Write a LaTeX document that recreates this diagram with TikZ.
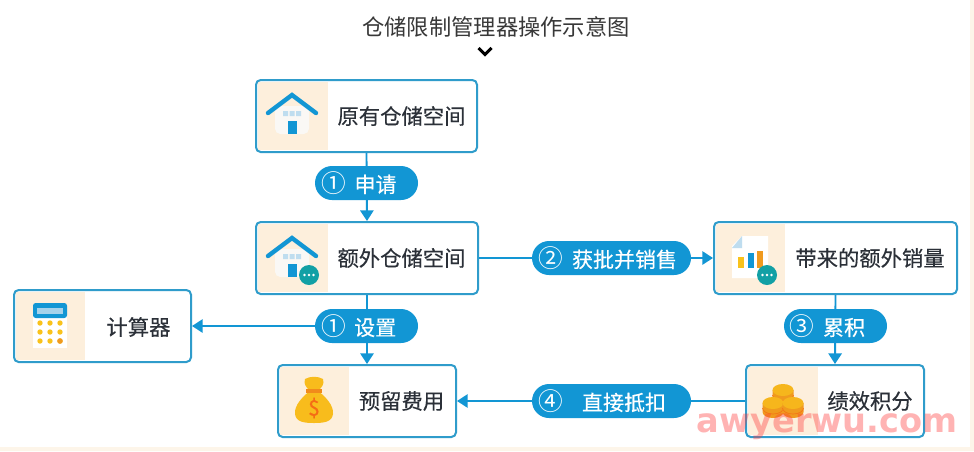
\documentclass[tikz,border=0pt]{standalone}
\usepackage{fontspec}
\setmainfont{Noto Sans CJK SC}
\newfontfamily\medcjk[FakeBold=0.3]{Noto Sans CJK SC}
\newfontfamily\circfont{Noto Sans CJK SC}
\newfontfamily\wmfont{DejaVu Sans Bold}
\usetikzlibrary{arrows.meta,shapes.misc}
\definecolor{lineblue}{HTML}{1296D4}
\definecolor{boxblue}{HTML}{2F9CCB}
\definecolor{panelc}{HTML}{FDEFDC}
\definecolor{stripc}{HTML}{FDF5E9}
\definecolor{teal1}{HTML}{12A0A5}
\definecolor{winc}{HTML}{BFDDEF}
\definecolor{wallc}{HTML}{FAF8F5}
\definecolor{yel}{HTML}{F9C21B}
\definecolor{ora}{HTML}{F09A1E}
\definecolor{txt}{HTML}{2B3038}
\tikzset{
  x=0.75pt,y=-0.75pt,
  boxnode/.style={draw=boxblue,line width=1.5pt,fill=none,rounded corners=3.5pt,inner sep=0pt,minimum height=54pt},
  boxtext/.style={inner sep=0pt,text=txt,font=\medcjk\fontsize{16}{18}\selectfont},
  pill/.style={rounded rectangle,fill=lineblue,text=white,inner sep=0pt,minimum height=25.5pt,font=\medcjk\fontsize{15.75}{18}\selectfont},
  conn/.style={draw=lineblue,line width=1.4pt,-{Triangle[length=8pt,width=10pt]}},
  roof/.style={draw=lineblue,line width=3.3pt,line join=miter,line cap=round}
}
\newcommand{\circnum}[1]{{\circfont\fontsize{18.5}{19}\selectfont #1}}
\newcommand{\housegl}[2]{%
  \begin{scope}[shift={(#1,#2)}]
    \fill[wallc,rounded corners=4pt] (-17,-8) -- (17,-8) -- (17,20) -- (-17,20) -- cycle;
    \fill[winc] (-9,-3) rectangle (-4,2) (-2.5,-3) rectangle (2.5,2) (4,-3) rectangle (9,2);
    \fill[lineblue] (-4.5,7) rectangle (4.5,20);
    \draw[roof] (-24,-1) -- (0,-19) -- (24,-1);
  \end{scope}}
\newcommand{\dotsbadge}[2]{%
  \fill[teal1] (#1,#2) circle[radius=10];
  \fill[white] (#1-4.5,#2) circle[radius=1.3] (#1,#2) circle[radius=1.3] (#1+4.5,#2) circle[radius=1.3];}
\newcommand{\coin}[2]{%
  \fill[ora] (#1-10.5,#2) -- (#1-10.5,#2+9) arc[start angle=180,end angle=0,x radius=10.5,y radius=6] -- (#1+10.5,#2) -- cycle;
  \draw[ora!75!red,line width=0.5pt] (#1-10.5,#2+5) arc[start angle=180,end angle=0,x radius=10.5,y radius=6];
  \fill[yel!70!ora] (#1,#2) ellipse[x radius=10.5,y radius=6];}
\begin{document}
\begin{tikzpicture}
\useasboundingbox (0,0) rectangle (974,451);
\fill[white] (0,0) rectangle (974,451);
\fill[stripc] (0,447) rectangle (974,451) (970,0) rectangle (974,451);
% title
\node[inner sep=0pt,text=black!78,font=\fontsize{16.7}{20}\selectfont] (title) at (496,27) {仓储限制管理器操作示意图};
\draw[black,line width=2.3pt] (478.5,48) -- (485,54.5) -- (491.5,48);
% panels
\fill[panelc] (258,82) rectangle (328,150);
\fill[panelc] (258,224) rectangle (328,292);
\fill[panelc] (16,292) rectangle (85,360);
\fill[panelc] (280,367) rectangle (349,435);
\fill[panelc] (716,224) rectangle (785,292);
\fill[panelc] (748,367) rectangle (818,435);
% boxes
\node[boxnode,minimum width=165.75pt] (A) at (366.5,116) {};
\node[boxnode,minimum width=166.5pt] (B) at (367,258) {};
\node[boxnode,minimum width=132.75pt] (C) at (102.5,326) {};
\node[boxnode,minimum width=133.5pt] (D) at (367,401) {};
\node[boxnode,minimum width=182.25pt] (E) at (835.5,258) {};
\node[boxnode,minimum width=133.5pt] (F) at (835,401) {};
% box texts
\node[boxtext] (ta) at (401.5,116) {原有仓储空间};
\node[boxtext] (tb) at (401.5,258) {额外仓储空间};
\node[boxtext] (tc) at (138.5,327) {计算器};
\node[boxtext] (td) at (401.5,401) {预留费用};
\node[boxtext] (te) at (870,258) {带来的额外销量};
\node[boxtext] (tf) at (870,401) {绩效积分};
% icons
\housegl{292}{114}
\housegl{292}{257}
\dotsbadge{309}{275}
% calculator
\fill[white] (33,310) rectangle (67,348);
\fill[lineblue,rounded corners=2pt] (33,303) rectangle (67,318);
\fill[winc!85!lineblue] (37,308) rectangle (63,314);
\foreach \yy in {323,332,341}{\foreach \xx in {40,50,60}{\fill[yel] (\xx,\yy) circle[radius=2.7];}}
\fill[ora] (60,341) circle[radius=2.8];
% money bag
\fill[yel!85!ora] (314,388) .. controls (302,396) and (294,406) .. (295,414) .. controls (296,422) and (304,423) .. (314,423) .. controls (324,423) and (332,422) .. (333,414) .. controls (334,406) and (326,396) .. (314,388) -- cycle;
\fill[yel!85!ora] (305,379) .. controls (310,376) and (318,376) .. (323,379) .. controls (325,384) and (321,388) .. (319,390) -- (309,390) .. controls (307,388) and (303,384) .. (305,379) -- cycle;
\fill[ora!90!red] (306,389) rectangle (322,393);
\node[inner sep=0pt,text=ora!70!red,font=\medcjk\fontsize{16}{18}\selectfont] (dollar) at (314,408) {\$};
% chart doc
\fill[white] (742,236) -- (768,236) -- (768,278) -- (732,278) -- (732,246) -- cycle;
\fill[winc] (742,236) -- (742,248) -- (732,248) -- cycle;
\fill[yel] (738,257) rectangle (744,268);
\fill[lineblue] (748,253) rectangle (754,268);
\fill[ora] (757,251) rectangle (763,268);
\dotsbadge{767}{275}
% coins
\coin{783}{390}
\coin{773}{403}
\coin{793}{403}
% connectors through pills
\draw[conn] (A.south) -- (B.north);
\draw[conn] (B.east) -- (E.west);
\draw[conn] (B.south) -- (D.north);
\draw[conn] (E.south) -- (F.north);
\draw[conn] (F.west) -- (D.east);
% pills
\node[pill,minimum width=77.25pt] (p1) at (366.5,183) {\circnum{①}\kern6.3pt 申请\kern11.25pt};
\node[pill,minimum width=77.25pt] (p2) at (366.5,326) {\circnum{①}\kern5.8pt 设置\kern11.25pt};
\node[pill,minimum width=119.25pt] (p3) at (611.5,258) {\circnum{②}\kern6.3pt 获批并销售\kern5.25pt};
\node[pill,minimum width=77.25pt] (p4) at (835.5,326) {\circnum{③}\kern6.3pt 累积\kern12pt};
\node[pill,minimum width=119.25pt] (p5) at (611.5,401) {\circnum{④}\kern13.8pt 直接抵扣\kern13.5pt};
\draw[conn] (p2.west) -- (C.east);
% watermark
\node[anchor=base,inner sep=0pt,text=red!70!pink,opacity=0.38,font=\wmfont\fontsize{25.2}{28}\selectfont] (wm) at (827,432) {awyerwu.com};
\end{tikzpicture}
\end{document}
